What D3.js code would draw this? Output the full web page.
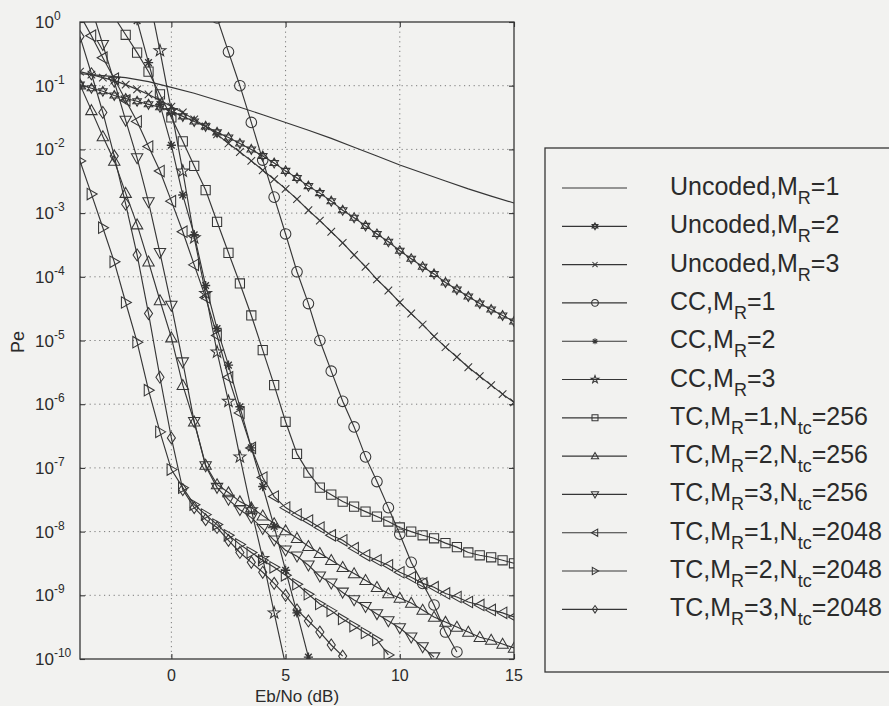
<!DOCTYPE html>
<html>
<head>
<meta charset="utf-8">
<script src="https://cdn.jsdelivr.net/npm/d3@7"></script>
<style>
  html, body { margin: 0; padding: 0; background: #f2f2f0; }
  svg { display: block; }
  text { font-family: "Liberation Sans", Arial, Helvetica, sans-serif; fill: #2b2b2b; }
</style>
</head>
<body>
<svg id="chart" width="889" height="706"></svg>
<script>
// ---- Eb/No grids (dB) ----
const ebnoWhole = [-4,-3,-2,-1,0,1,2,3,4,5,6,7,8,9,10,11,12,13,14,15];
const ebnoHalf = [-4,-3.5,-3,-2.5,-2,-1.5,-1,-0.5,0,0.5,1,1.5,2,2.5,3,3.5,4,4.5,5,5.5,6,6.5,7,7.5,8,8.5,9,9.5,10,10.5,11,11.5,12,12.5,13,13.5,14,14.5,15];
const ebnoCC1 = [2,2.5,3,3.5,4,4.5,5,5.5,6,6.5,7,7.5,8,8.5,9,9.5,10,10.5,11,11.5,12,12.5];
const ebnoCC2 = [-1.5,-1,-0.5,0,0.5,1,1.5,2,2.5,3,3.5,4,4.5,5,5.5,6];
const ebnoCC3 = [-1,-0.5,0,0.5,1,1.5,2,2.5,3,3.5,4,4.5,5];
const ebnoTC1s = [-2.5,-2,-1.5,-1,-0.5,0,0.5,1,1.5,2,2.5,3,3.5,4,4.5,5,5.5,6,6.5,7,7.5,8,8.5,9,9.5,10,10.5,11,11.5,12,12.5,13,13.5,14,14.5,15];
const ebnoTC3s = [-3.5,-3,-2.5,-2,-1.5,-1,-0.5,0,0.5,1,1.5,2,2.5,3,3.5,4,4.5,5,5.5,6,6.5,7,7.5,8,8.5,9,9.5,10,10.5,11,11.5];
const ebnoTC2l = [-4,-3.5,-3,-2.5,-2,-1.5,-1,-0.5,0,0.5,1,1.5,2,2.5,3,3.5,4,4.5,5,5.5,6,6.5,7,7.5,8,8.5,9,9.5];
const ebnoTC3l = [-4,-3.5,-3,-2.5,-2,-1.5,-1,-0.5,0,0.5,1,1.5,2,2.5,3,3.5,4,4.5,5,5.5,6,6.5,7,7.5];

// ---- error probabilities ----
const peUncoded1 = [1.54e-1,1.44e-1,1.34e-1,1.16e-1,9.4e-2,7.6e-2,5.9e-2,4.6e-2,3.5e-2,2.65e-2,2.0e-2,1.49e-2,1.08e-2,7.9e-3,5.7e-3,4.25e-3,3.2e-3,2.4e-3,1.85e-3,1.44e-3];
const peUncoded2 = [1.04e-1,9.1e-2,8.2e-2,7.0e-2,6.3e-2,5.7e-2,5.1e-2,4.6e-2,3.95e-2,3.3e-2,2.75e-2,2.3e-2,1.85e-2,1.54e-2,1.24e-2,1.0e-2,7.85e-3,6.1e-3,4.6e-3,3.55e-3,2.65e-3,2.06e-3,1.54e-3,1.11e-3,8.45e-4,6.3e-4,4.7e-4,3.55e-4,2.56e-4,1.92e-4,1.44e-4,1.11e-4,8.15e-5,6.3e-5,4.9e-5,3.8e-5,3.07e-5,2.47e-5,1.99e-5];
const peUncoded3 = [1.66e-1,1.49e-1,1.34e-1,1.2e-1,1.04e-1,8.75e-2,7.3e-2,5.9e-2,4.7e-2,3.8e-2,2.96e-2,2.3e-2,1.72e-2,1.24e-2,9.1e-3,6.6e-3,4.7e-3,3.4e-3,2.4e-3,1.66e-3,1.11e-3,7.6e-4,5.1e-4,3.4e-4,2.2e-4,1.44e-4,9.1e-5,6.1e-5,3.95e-5,2.65e-5,1.78e-5,1.16e-5,7.85e-6,5.5e-6,3.8e-6,2.75e-6,1.99e-6,1.44e-6,1.07e-6];
const peCC1 = [1.16,3.4e-1,1.0e-1,2.65e-2,6.8e-3,1.78e-3,4.7e-4,1.2e-4,3.8e-5,1.0e-5,3.3e-6,1.11e-6,4.4e-7,1.49e-7,6.1e-8,2.38e-8,9.1e-9,3.3e-9,1.54e-9,7.05e-10,2.65e-10,1.29e-10];
const peCC2 = [1.05,2.3e-1,5.1e-2,1.16e-2,1.92e-3,4.57e-4,7.3e-5,1.54e-5,4.1e-6,9.1e-7,2.06e-7,5.1e-8,1.2e-8,2.47e-9,5.3e-10,1.07e-10];
const peCC3 = [2.75,3.55e-1,4.1e-2,4.57e-3,4.1e-4,5.5e-5,6.6e-6,1.11e-6,1.49e-7,2.2e-8,3.8e-9,5.3e-10,8.0e-11];
const peTC1s = [1.2,6.3e-1,3.3e-1,1.66e-1,7.3e-2,3.18e-2,1.34e-2,5.5e-3,2.3e-3,7.3e-4,2.38e-4,7.85e-5,2.47e-5,7.05e-6,1.99e-6,5.3e-7,1.66e-7,8.45e-8,4.9e-8,3.8e-8,2.96e-8,2.47e-8,2.06e-8,1.72e-8,1.44e-8,1.16e-8,1.0e-8,8.75e-9,7.85e-9,6.6e-9,5.7e-9,4.7e-9,4.25e-9,3.95e-9,3.55e-9,3.18e-9];
const peTC2s = [1.04e-1,4.1e-2,1.6e-2,6.6e-3,2.06e-3,6.6e-4,1.72e-4,4.25e-5,1.11e-5,1.99e-6,5.3e-7,1.11e-7,5.5e-8,4.1e-8,2.96e-8,2.38e-8,1.78e-8,1.34e-8,1.04e-8,7.85e-9,5.9e-9,4.57e-9,3.55e-9,2.75e-9,2.2e-9,1.72e-9,1.34e-9,1.07e-9,9.1e-10,7.6e-10,5.9e-10,4.57e-10,3.8e-10,3.18e-10,2.65e-10,2.2e-10,1.99e-10,1.72e-10,1.49e-10];
const peTC3s = [1.66,4.4e-1,1.16e-1,2.85e-2,7.3e-3,1.49e-3,2.38e-4,3.55e-5,4.57e-6,5.3e-7,1.07e-7,4.9e-8,3.18e-8,2.2e-8,1.66e-8,1.11e-8,7.3e-9,5.1e-9,4.1e-9,2.96e-9,1.99e-9,1.54e-9,1.11e-9,8.45e-10,6.6e-10,5.1e-10,3.95e-10,3.07e-10,2.2e-10,1.54e-10,1.07e-10];
const peTC1l = [1.29,6.1e-1,2.75e-1,1.29e-1,5.9e-2,2.75e-2,1.11e-2,4.57e-3,1.54e-3,5.1e-4,1.54e-4,4.73e-5,1.2e-5,2.65e-6,7.3e-7,2.06e-7,7.05e-8,3.55e-8,2.38e-8,1.85e-8,1.49e-8,1.16e-8,8.75e-9,7.3e-9,5.5e-9,4.25e-9,3.55e-9,2.96e-9,2.3e-9,1.92e-9,1.54e-9,1.34e-9,1.07e-9,9.4e-10,7.85e-10,7.05e-10,5.9e-10,5.3e-10,4.57e-10];
const peTC2l = [6.6e-3,1.99e-3,5.9e-4,1.72e-4,3.95e-5,9.4e-6,1.66e-6,3.68e-7,9.4e-8,4.9e-8,2.65e-8,1.85e-8,1.29e-8,8.75e-9,6.3e-9,4.7e-9,3.55e-9,2.75e-9,2.06e-9,1.49e-9,1.04e-9,7.3e-10,5.7e-10,4.25e-10,3.29e-10,2.56e-10,1.99e-10,1.16e-10];
const peTC3l = [5.9e-1,1.54e-1,3.8e-2,7.85e-3,1.38e-3,2.2e-4,2.65e-5,2.65e-6,2.96e-7,4.57e-8,2.38e-8,1.54e-8,1.16e-8,7.3e-9,4.7e-9,3.29e-9,2.3e-9,1.54e-9,1.0e-9,5.9e-10,3.95e-10,2.65e-10,1.66e-10,1.11e-10];

// ---- axis ticks ----
const xTicks = [0, 5, 10, 15];
const yExponents = [0,-1,-2,-3,-4,-5,-6,-7,-8,-9,-10];

// ---- series: legend label pieces, marker kind, data ----
const series = [
  { parts: [["Uncoded,M"],["R","sub"],["=1"]], marker: null,       x: ebnoWhole, y: peUncoded1 },
  { parts: [["Uncoded,M"],["R","sub"],["=2"]], marker: "hexagram", x: ebnoHalf,  y: peUncoded2 },
  { parts: [["Uncoded,M"],["R","sub"],["=3"]], marker: "cross",    x: ebnoHalf,  y: peUncoded3 },
  { parts: [["CC,M"],["R","sub"],["=1"]],      marker: "circle",   x: ebnoCC1,   y: peCC1 },
  { parts: [["CC,M"],["R","sub"],["=2"]],      marker: "asterisk", x: ebnoCC2,   y: peCC2 },
  { parts: [["CC,M"],["R","sub"],["=3"]],      marker: "pentagram",x: ebnoCC3,   y: peCC3 },
  { parts: [["TC,M"],["R","sub"],["=1,N"],["tc","sub"],["=256"]],  marker: "square", x: ebnoTC1s, y: peTC1s },
  { parts: [["TC,M"],["R","sub"],["=2,N"],["tc","sub"],["=256"]],  marker: "up",     x: ebnoHalf, y: peTC2s },
  { parts: [["TC,M"],["R","sub"],["=3,N"],["tc","sub"],["=256"]],  marker: "down",   x: ebnoTC3s, y: peTC3s },
  { parts: [["TC,M"],["R","sub"],["=1,N"],["tc","sub"],["=2048"]], marker: "left",   x: ebnoHalf, y: peTC1l },
  { parts: [["TC,M"],["R","sub"],["=2,N"],["tc","sub"],["=2048"]], marker: "right",  x: ebnoTC2l, y: peTC2l },
  { parts: [["TC,M"],["R","sub"],["=3,N"],["tc","sub"],["=2048"]], marker: "diamond",x: ebnoTC3l, y: peTC3l }
];

// ---- layout ----
const ink = "#363636";
const plot = { left: 80, right: 514, top: 22, bottom: 659 };
const svg = d3.select("#chart");

const x = d3.scaleLinear().domain([-4, 15]).range([plot.left, plot.right]);
const y = d3.scaleLog().domain([1e-10, 1]).range([plot.bottom, plot.top]);

// marker outlines centred on the origin, s = half size
function markerPath(kind, s) {
  const p = d3.path();
  const poly = pts => { pts.forEach((q, i) => i ? p.lineTo(q[0], q[1]) : p.moveTo(q[0], q[1])); p.closePath(); };
  switch (kind) {
    case "circle": p.arc(0, 0, s, 0, 2 * Math.PI); p.closePath(); break;
    case "square": poly([[-s,-s],[s,-s],[s,s],[-s,s]]); break;
    case "up":     poly([[0,-s],[s,s*0.75],[-s,s*0.75]]); break;
    case "down":   poly([[0,s],[s,-s*0.75],[-s,-s*0.75]]); break;
    case "left":   poly([[-s,0],[s*0.75,-s],[s*0.75,s]]); break;
    case "right":  poly([[s,0],[-s*0.75,-s],[-s*0.75,s]]); break;
    case "diamond":poly([[0,-s*1.1],[s*0.75,0],[0,s*1.1],[-s*0.75,0]]); break;
    case "cross":  p.moveTo(-s,-s); p.lineTo(s,s); p.moveTo(-s,s); p.lineTo(s,-s); break;
    case "asterisk": {
      const d = s * 0.72;
      p.moveTo(-s,0); p.lineTo(s,0); p.moveTo(0,-s); p.lineTo(0,s);
      p.moveTo(-d,-d); p.lineTo(d,d); p.moveTo(-d,d); p.lineTo(d,-d); break;
    }
    case "hexagram": {
      const c = s * 0.866, h = s * 0.5;
      poly([[0,-s],[c,h],[-c,h]]);
      poly([[0,s],[c,-h],[-c,-h]]); break;
    }
    case "pentagram": {
      const pts = [];
      for (let i = 0; i < 10; i++) {
        const r = i % 2 ? s * 0.4 : s;
        const a = -Math.PI / 2 + i * Math.PI / 5;
        pts.push([r * Math.cos(a), r * Math.sin(a)]);
      }
      poly(pts); break;
    }
  }
  return p.toString();
}
const plotSize = { circle: 5.3, square: 4.6, up: 5.7, down: 5.7, left: 5.7, right: 5.7, diamond: 5.4,
                   cross: 3.8, asterisk: 4.6, hexagram: 5, pentagram: 6.3 };
const legendSize = { circle: 3.4, square: 3, up: 3.6, down: 3.6, left: 3.6, right: 3.6, diamond: 3.4,
                     cross: 2.6, asterisk: 3, hexagram: 3.4, pentagram: 4 };

// clip region for the curves
svg.append("defs").append("clipPath").attr("id", "plotClip")
  .append("rect")
  .attr("x", plot.left).attr("y", plot.top)
  .attr("width", plot.right - plot.left).attr("height", plot.bottom - plot.top);

// ---- grid ----
const grid = svg.append("g").attr("stroke", "#7a7a7a").attr("stroke-width", 1)
  .attr("stroke-dasharray", "1.2,3.6");
grid.selectAll("line.gx").data(xTicks.filter(t => t > -4 && t < 15)).join("line")
  .attr("x1", d => x(d)).attr("x2", d => x(d))
  .attr("y1", plot.top).attr("y2", plot.bottom);
grid.selectAll("line.gy").data(yExponents.filter(e => e < 0 && e > -10)).join("line")
  .attr("y1", d => y(Math.pow(10, d))).attr("y2", d => y(Math.pow(10, d)))
  .attr("x1", plot.left).attr("x2", plot.right);

// ---- curves ----
const curves = svg.append("g").attr("clip-path", "url(#plotClip)");
const line = d3.line().x(d => x(d[0])).y(d => y(d[1]));
series.forEach(s => {
  const pts = s.x.map((v, i) => [v, s.y[i]]);
  const g = curves.append("g");
  g.append("path").attr("d", line(pts))
    .attr("fill", "none").attr("stroke", ink).attr("stroke-width", 1.15);
  if (s.marker) {
    const shape = markerPath(s.marker, plotSize[s.marker]);
    g.selectAll("path.m").data(pts).join("path")
      .attr("class", "m")
      .attr("transform", d => `translate(${x(d[0])},${y(d[1])})`)
      .attr("d", shape)
      .attr("fill", "none").attr("stroke", ink)
      .attr("stroke-width", s.marker === "asterisk" ? 1.4 : 1.05);
  }
});

// ---- axes box and ticks ----
const xAxisB = d3.axisBottom(x).tickValues(xTicks).tickSize(-5).tickFormat("");
const xAxisT = d3.axisTop(x).tickValues(xTicks).tickSize(-5).tickFormat("");
const yVals = yExponents.map(e => Math.pow(10, e));
const yAxisL = d3.axisLeft(y).tickValues(yVals).tickSize(-5).tickFormat("");
const yAxisR = d3.axisRight(y).tickValues(yVals).tickSize(-5).tickFormat("");
[[xAxisB, `translate(0,${plot.bottom})`], [xAxisT, `translate(0,${plot.top})`],
 [yAxisL, `translate(${plot.left},0)`], [yAxisR, `translate(${plot.right},0)`]].forEach(([ax, tr]) => {
  const g = svg.append("g").attr("transform", tr).call(ax);
  g.select(".domain").remove();
  g.selectAll("line").attr("stroke", ink).attr("stroke-width", 1.1);
});
svg.append("rect")
  .attr("x", plot.left).attr("y", plot.top)
  .attr("width", plot.right - plot.left).attr("height", plot.bottom - plot.top)
  .attr("fill", "none").attr("stroke", ink).attr("stroke-width", 1.3);

// x tick labels
svg.append("g").selectAll("text").data(xTicks).join("text")
  .attr("x", d => x(d)).attr("y", plot.bottom + 22)
  .attr("text-anchor", "middle").attr("font-size", 16)
  .text(d => d);

// y tick labels as powers of ten
const yl = svg.append("g").selectAll("text").data(yExponents).join("text")
  .attr("x", 35).attr("y", d => y(Math.pow(10, d)) + 6)
  .attr("font-size", 17);
yl.append("tspan").text("10");
yl.append("tspan").attr("font-size", 12).attr("dy", -8).text(d => d === 0 ? "0" : "-" + Math.abs(d));

// axis titles
svg.append("text").attr("x", (plot.left + plot.right) / 2).attr("y", 702)
  .attr("text-anchor", "middle").attr("font-size", 17).text("Eb/No (dB)");
svg.append("text").attr("transform", "translate(24,342) rotate(-90)")
  .attr("text-anchor", "middle").attr("font-size", 18).text("Pe");

// ---- legend ----
const legend = svg.append("g");
legend.append("rect").attr("x", 545).attr("y", 148).attr("width", 400).attr("height", 524)
  .attr("fill", "#f2f2f0").attr("stroke", ink).attr("stroke-width", 1.3);
series.forEach((s, i) => {
  const cy = 188 + i * 38.3;
  const row = legend.append("g");
  row.append("line").attr("x1", 562).attr("x2", 627).attr("y1", cy).attr("y2", cy)
    .attr("stroke", ink).attr("stroke-width", 1.15);
  if (s.marker) {
    row.append("path").attr("transform", `translate(595,${cy})`)
      .attr("d", markerPath(s.marker, legendSize[s.marker]))
      .attr("fill", "none").attr("stroke", ink).attr("stroke-width", 1.05);
  }
  const t = row.append("text").attr("x", 670).attr("y", cy + 7).attr("font-size", 25);
  let lowered = false;
  s.parts.forEach(([str, kind]) => {
    const ts = t.append("tspan").text(str);
    if (kind === "sub" && !lowered) { ts.attr("font-size", 18).attr("dy", 9); lowered = true; }
    else if (kind !== "sub" && lowered) { ts.attr("dy", -9); lowered = false; }
    else if (kind === "sub") ts.attr("font-size", 18);
  });
});
</script>
</body>
</html>
